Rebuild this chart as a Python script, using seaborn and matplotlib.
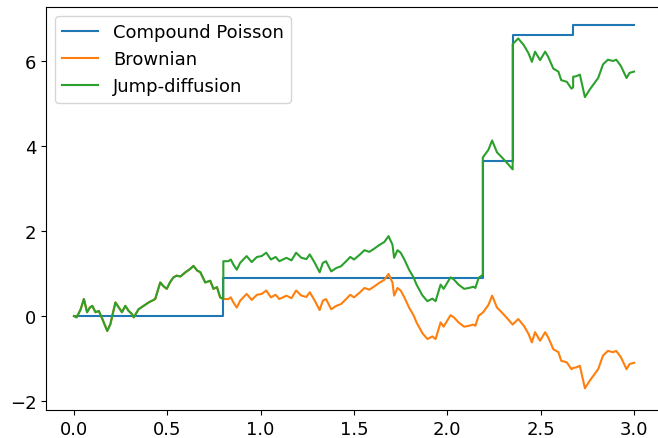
import numpy as np
import pandas as pd
import seaborn as sns
import matplotlib.pyplot as plt

# compound Poisson: jump times and the level reached after each jump
jump_t = [0.80, 2.19, 2.35, 2.674]
cp_levels = [0.0, 0.89, 3.65, 6.60, 6.85]

# Brownian path (time, value)
bm_t = [0.000, 0.014, 0.035, 0.053, 0.070, 0.085, 0.098, 0.115, 0.133, 0.155,
        0.178, 0.195, 0.210, 0.222, 0.240, 0.257, 0.275, 0.293, 0.310, 0.320,
        0.346, 0.373, 0.400, 0.435, 0.462, 0.480, 0.497, 0.515, 0.533, 0.550,
        0.570, 0.597, 0.623, 0.640, 0.660, 0.677, 0.703, 0.730, 0.747, 0.766,
        0.783, 0.800, 0.827, 0.840, 0.854, 0.872, 0.890, 0.907, 0.925, 0.952,
        0.980, 1.005, 1.030, 1.055, 1.080, 1.100, 1.138, 1.165, 1.190, 1.218,
        1.245, 1.263, 1.290, 1.316, 1.333, 1.350, 1.378, 1.405, 1.430, 1.458,
        1.480, 1.500, 1.530, 1.556, 1.582, 1.610, 1.635, 1.662, 1.685, 1.706,
        1.715, 1.733, 1.750, 1.770, 1.795, 1.820, 1.835, 1.866, 1.893, 1.920,
        1.937, 1.964, 1.980, 2.017, 2.035, 2.060, 2.090, 2.115, 2.140, 2.150,
        2.168, 2.190, 2.220, 2.240, 2.266, 2.293, 2.320, 2.350, 2.380, 2.410,
        2.435, 2.453, 2.470, 2.497, 2.524, 2.540, 2.568, 2.595, 2.610, 2.640,
        2.665, 2.674, 2.690, 2.710, 2.737, 2.763, 2.790, 2.808, 2.834, 2.860,
        2.888, 2.905, 2.930, 2.960, 2.976, 3.000]
bm_y = [0.00, -0.03, 0.15, 0.40, 0.09, 0.20, 0.24, 0.09, 0.12, -0.10,
        -0.35, -0.19, 0.10, 0.32, 0.20, 0.09, 0.24, 0.12, 0.05, -0.03,
        0.16, 0.24, 0.32, 0.40, 0.79, 0.70, 0.64, 0.80, 0.91, 0.95,
        0.93, 1.03, 1.11, 1.18, 1.07, 1.03, 0.79, 0.83, 0.64, 0.68,
        0.44, 0.40, 0.40, 0.44, 0.32, 0.20, 0.36, 0.44, 0.52, 0.38,
        0.50, 0.52, 0.60, 0.44, 0.50, 0.40, 0.48, 0.42, 0.60, 0.48,
        0.45, 0.56, 0.36, 0.14, 0.36, 0.40, 0.16, 0.24, 0.28, 0.40,
        0.50, 0.44, 0.55, 0.66, 0.62, 0.70, 0.78, 0.85, 0.99, 0.79,
        0.48, 0.66, 0.60, 0.44, 0.20, 0.01, -0.15, -0.40, -0.54, -0.48,
        -0.54, -0.15, -0.25, 0.02, -0.03, -0.15, -0.25, -0.23, -0.20, -0.23,
        0.01, 0.08, 0.26, 0.48, 0.20, 0.08, -0.05, -0.20, -0.07, -0.23,
        -0.42, -0.62, -0.38, -0.58, -0.38, -0.50, -0.78, -0.85, -1.05, -1.09,
        -1.25, -1.22, -1.21, -1.17, -1.70, -1.52, -1.36, -1.25, -0.93, -0.82,
        -0.85, -0.82, -0.97, -1.25, -1.13, -1.10]

# step path for the compound Poisson process
cp_t = [0.0] + jump_t + [3.0]
cp_y = cp_levels + [cp_levels[-1]]

# jump-diffusion = compound Poisson + Brownian, with vertical jumps
jd_t, jd_y = [], []
for t, b in zip(bm_t, bm_y):
    k = np.searchsorted(jump_t, t, side="right")
    if t in jump_t:
        jd_t.append(t)
        jd_y.append(b + cp_levels[k - 1])
    jd_t.append(t)
    jd_y.append(b + cp_levels[k])

cp_df = pd.DataFrame({"t": cp_t, "y": cp_y})
bm_df = pd.DataFrame({"t": bm_t, "y": bm_y})
jd_df = pd.DataFrame({"t": jd_t, "y": jd_y})

plt.rcParams["font.size"] = 13
fig = plt.figure(figsize=(6.58, 4.39), dpi=100)
ax = fig.add_axes([46 / 658, 28 / 439, 616 / 658, 403 / 439])

sns.lineplot(data=cp_df, x="t", y="y", ax=ax, color="#1f77b4", lw=1.5,
             drawstyle="steps-post", sort=False, estimator=None, label="Compound Poisson")
sns.lineplot(data=bm_df, x="t", y="y", ax=ax, color="#ff7f0e", lw=1.5,
             sort=False, estimator=None, label="Brownian")
sns.lineplot(data=jd_df, x="t", y="y", ax=ax, color="#2ca02c", lw=1.5,
             sort=False, estimator=None, label="Jump-diffusion")

ax.set_xlim(-0.15, 3.15)
ax.set_ylim(-2.21, 7.27)
ax.set_xticks([0.0, 0.5, 1.0, 1.5, 2.0, 2.5, 3.0])
ax.set_yticks([-2, 0, 2, 4, 6])
ax.set_xlabel("")
ax.set_ylabel("")
ax.legend(loc="upper left")

fig.savefig("out.png", dpi=100)
